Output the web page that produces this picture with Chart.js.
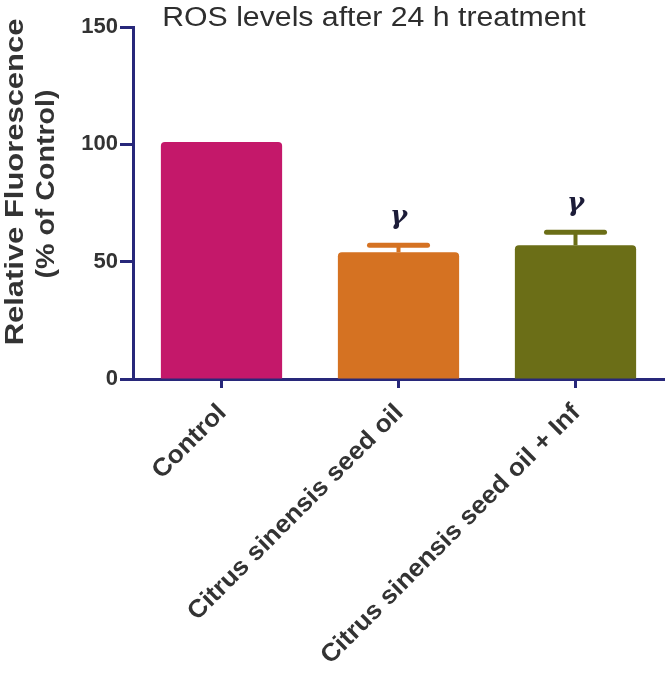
<!DOCTYPE html>
<html>
<head>
<meta charset="utf-8">
<script src="https://cdn.jsdelivr.net/npm/chart.js@4/dist/chart.umd.min.js"></script>
<style>
  html, body { margin: 0; padding: 0; background: #fff; }
  canvas { display: block; }
</style>
</head>
<body>
<canvas id="rosChart" width="669" height="673"></canvas>
<script>
// values
const categories = ['Control', 'Citrus sinensis seed oil', 'Citrus sinensis seed oil + Inf'];
const means = [101, 54, 57];
const errors = [0, 3, 5.5];
const marks = ['', 'γ', 'γ'];
const yTicks = [0, 50, 100, 150];
const barColors = ['#c4186a', '#d57222', '#6b6e17'];

const axisColor = '#28287a';
const textColor = '#333333';
const fontFamily = '"Liberation Sans", Arial, sans-serif';

// draws a text, optionally stretched along its own direction
function drawText(ctx, text, x, y, angle, sx, align, baseline) {
    ctx.save();
    ctx.translate(x, y);
    ctx.rotate(angle);
    ctx.scale(sx, 1);
    ctx.textAlign = align;
    ctx.textBaseline = baseline;
    ctx.fillText(text, 0, 0);
    ctx.restore();
}

const extrasPlugin = {
    id: 'extras',
    afterDatasetsDraw(chart) {
        const ctx = chart.ctx;
        const meta = chart.getDatasetMeta(0);
        const yScale = chart.scales.y;

        // error bars (upper half only) and significance marks
        meta.data.forEach((bar, i) => {
            const yTop = yScale.getPixelForValue(means[i] + errors[i]);
            const yBar = yScale.getPixelForValue(means[i]);
            if (errors[i] > 0) {
                ctx.save();
                ctx.strokeStyle = barColors[i];
                ctx.lineWidth = 4;
                ctx.beginPath();
                ctx.moveTo(bar.x, yBar);
                ctx.lineTo(bar.x, yTop);
                ctx.stroke();
                ctx.lineWidth = 5;
                ctx.lineCap = 'round';
                ctx.beginPath();
                ctx.moveTo(bar.x - 29, yTop);
                ctx.lineTo(bar.x + 29, yTop);
                ctx.stroke();
                ctx.restore();
            }
            if (marks[i]) {
                ctx.save();
                ctx.fillStyle = '#1c1c38';
                ctx.font = 'italic bold 26px "DejaVu Serif", "Liberation Serif", serif';
                drawText(ctx, marks[i], bar.x, yTop - 28, 0, 1, 'center', 'middle');
                ctx.restore();
            }
        });
    },
    afterDraw(chart) {
        const ctx = chart.ctx;
        const xScale = chart.scales.x;

        ctx.save();
        ctx.fillStyle = textColor;

        // category labels, rotated 45 degrees
        ctx.font = 'bold 25px ' + fontFamily;
        categories.forEach((label, i) => {
            const x = xScale.getPixelForValue(i);
            drawText(ctx, label, x + 1, 409, -Math.PI / 4, 1.05, 'right', 'middle');
        });

        // y axis title, two lines
        ctx.font = 'bold 26px ' + fontFamily;
        drawText(ctx, 'Relative Fluorescence', 16, 182, -Math.PI / 2, 1.19, 'center', 'middle');
        drawText(ctx, '(% of Control)', 47, 184, -Math.PI / 2, 1.1, 'center', 'middle');

        // chart title
        ctx.fillStyle = '#2e2e2e';
        ctx.font = '27px ' + fontFamily;
        drawText(ctx, 'ROS levels after 24 h treatment', 374, 26, 0, 1.12, 'center', 'alphabetic');
        ctx.restore();
    }
};

const ctx = document.getElementById('rosChart').getContext('2d');
const rosChart = new Chart(ctx, {
    type: 'bar',
    data: {
        labels: categories,
        datasets: [{
            data: means,
            backgroundColor: barColors,
            borderRadius: { topLeft: 4, topRight: 4, bottomLeft: 0, bottomRight: 0 },
            borderSkipped: false,
            barPercentage: 0.685,
            categoryPercentage: 1
        }]
    },
    options: {
        responsive: false,
        animation: false,
        devicePixelRatio: 1,
        layout: {
            padding: { top: 27, right: 5, left: 0, bottom: 0 }
        },
        plugins: {
            legend: { display: false },
            tooltip: { enabled: false },
            title: { display: false }
        },
        scales: {
            x: {
                offset: true,
                grid: {
                    display: true,
                    offset: false,
                    drawOnChartArea: false,
                    drawTicks: true,
                    tickLength: 9,
                    tickWidth: 3,
                    tickColor: axisColor
                },
                border: { display: true, color: axisColor, width: 3 },
                ticks: { display: false },
                afterFit: scale => { scale.height = 294; }
            },
            y: {
                min: 0,
                max: 150,
                afterBuildTicks: scale => {
                    scale.ticks = yTicks.map(v => ({ value: v }));
                },
                grid: {
                    display: true,
                    drawOnChartArea: false,
                    drawTicks: true,
                    tickLength: 13,
                    tickWidth: 3,
                    tickColor: axisColor
                },
                border: { display: true, color: axisColor, width: 3 },
                ticks: {
                    color: textColor,
                    padding: 2,
                    font: { family: fontFamily, size: 22, weight: 'bold' }
                },
                afterFit: scale => { scale.width = 133; }
            }
        }
    },
    plugins: [extrasPlugin]
});
</script>
</body>
</html>
